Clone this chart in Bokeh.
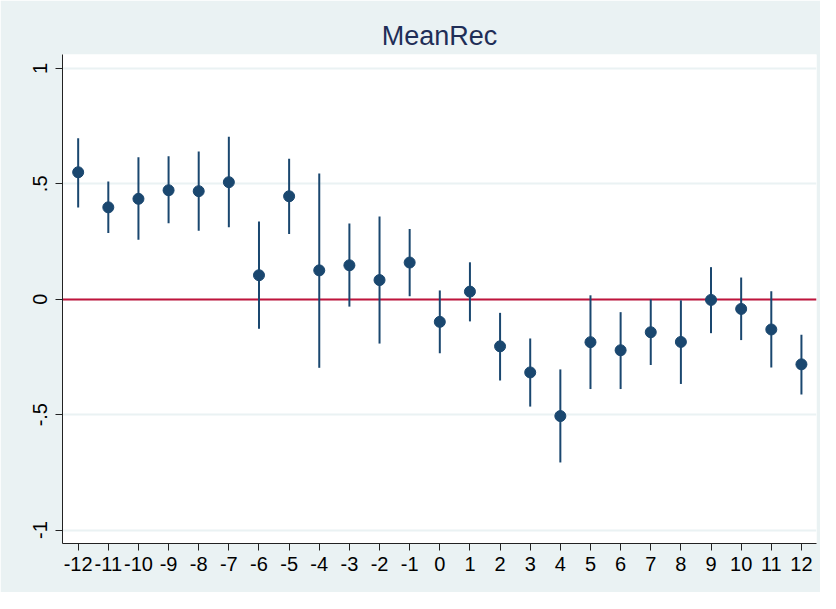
from bokeh.plotting import figure
from bokeh.models import Range1d, FixedTicker, ColumnDataSource
from bokeh.embed import file_html
from bokeh.resources import INLINE

# ---- data ----
periods = [-12, -11, -10, -9, -8, -7, -6, -5, -4, -3, -2, -1, 0,
           1, 2, 3, 4, 5, 6, 7, 8, 9, 10, 11, 12]
x_tick_labels = ["-12", "-11", "-10", "-9", "-8", "-7", "-6", "-5", "-4", "-3",
                 "-2", "-1", "0", "1", "2", "3", "4", "5", "6", "7", "8", "9",
                 "10", "11", "12"]
coef = [0.550, 0.398, 0.435, 0.472, 0.468, 0.507, 0.104, 0.446, 0.125, 0.147,
        0.083, 0.159, -0.098, 0.033, -0.204, -0.317, -0.506, -0.186, -0.221,
        -0.143, -0.185, -0.003, -0.042, -0.131, -0.282]
ci_hi = [0.697, 0.510, 0.615, 0.619, 0.640, 0.704, 0.337, 0.608, 0.545, 0.328,
         0.358, 0.304, 0.038, 0.160, -0.059, -0.170, -0.304, 0.017, -0.056,
         -0.001, -0.005, 0.139, 0.094, 0.035, -0.154]
ci_lo = [0.397, 0.287, 0.258, 0.329, 0.297, 0.312, -0.128, 0.282, -0.297, -0.032,
         -0.192, 0.013, -0.234, -0.096, -0.352, -0.465, -0.707, -0.389, -0.389,
         -0.285, -0.367, -0.147, -0.177, -0.296, -0.413]
ref_line = [0.0]
y_ticks = [-1, -0.5, 0, 0.5, 1]
y_tick_labels = ["-1", "-.5", "0", ".5", "1"]
title_text = "MeanRec"

src = ColumnDataSource(dict(x=periods, y=coef, lo=ci_lo, hi=ci_hi))

BG = "#EAF2F3"
NAVY = "#1A476F"
FONT = "Liberation Sans"

p = figure(width=820, height=592, output_backend="svg", toolbar_location=None,
           x_range=Range1d(-12.52, 12.5), y_range=Range1d(-1.058, 1.06),
           min_border_left=62, min_border_right=4, min_border_top=54,
           min_border_bottom=49)
p.border_fill_color = BG
p.background_fill_color = "white"
p.outline_line_color = None

p.title.text = title_text
p.title.align = "center"
p.title.text_font = FONT
p.title.text_font_size = "27px"
p.title.text_font_style = "normal"
p.title.text_color = "#1F2E57"
p.title.standoff = 8

# reference line at zero
p.hspan(y=ref_line, line_color="#C0143C", line_width=2)

# error bars and points
p.segment(x0="x", y0="lo", x1="x", y1="hi", source=src, line_color=NAVY, line_width=2)
p.scatter(x="x", y="y", source=src, size=11, fill_color=NAVY, line_color=NAVY)

# axes
p.xaxis.ticker = FixedTicker(ticks=periods)
p.xaxis.major_label_overrides = {t: l for t, l in zip(periods, x_tick_labels)}
p.yaxis.ticker = FixedTicker(ticks=y_ticks)
p.yaxis.major_label_overrides = {t: l for t, l in zip(y_ticks, y_tick_labels)}
p.yaxis.major_label_orientation = "vertical"
for ax in (p.xaxis[0], p.yaxis[0]):
    ax.axis_line_color = "#222222"
    ax.axis_line_width = 1
    ax.major_tick_line_color = "#222222"
    ax.major_tick_out = 7
    ax.major_tick_in = 0
    ax.minor_tick_line_color = None
    ax.major_label_text_font = FONT
    ax.major_label_text_font_size = "20px"
    ax.major_label_text_color = "black"
p.xaxis.major_label_standoff = 6
p.yaxis.major_label_standoff = 8

p.xgrid.grid_line_color = None
p.ygrid.grid_line_color = BG
p.ygrid.grid_line_width = 2

open("out.html", "w").write(file_html(p, INLINE))
